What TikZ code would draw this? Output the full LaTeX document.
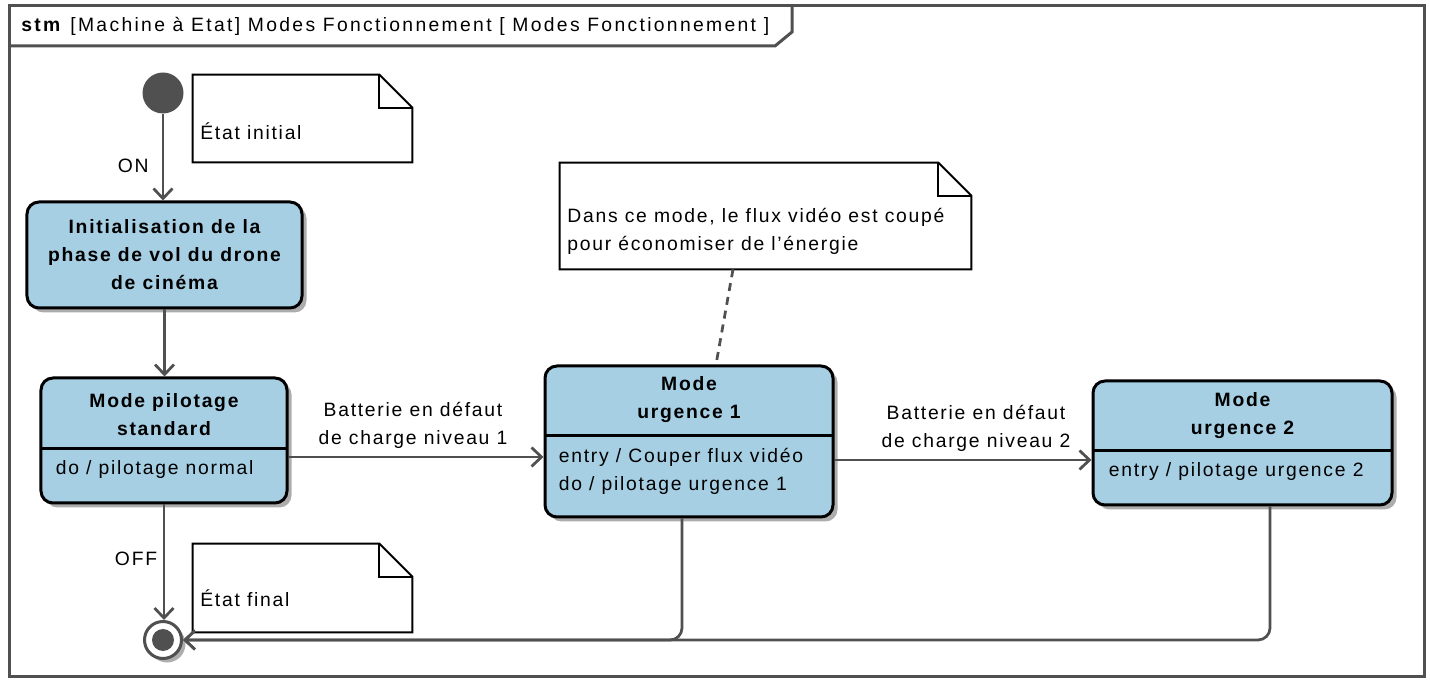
\documentclass[tikz,border=0pt]{standalone}
\usepackage{fontspec}
\setmainfont{Liberation Sans}[LetterSpace=9]
\usepackage{xcolor}
\usepackage{tikz}
\usetikzlibrary{arrows.meta, positioning, shadows, calc}

\definecolor{statefill}{RGB}{166,207,228}
\definecolor{linegray}{RGB}{80,80,80}

\begin{document}
\begin{tikzpicture}[
  x=0.2mm, y=-0.2mm,
  every node/.style={font=\fontsize{11}{15.9}\selectfont, inner sep=1.1mm},
  state/.style={rectangle, draw=black, line width=0.6mm, fill=statefill, rounded corners=2.4mm,
    align=center, font=\fontsize{11}{15.9}\selectfont\bfseries,
    drop shadow={shadow xshift=0.9mm, shadow yshift=-0.9mm, fill=black!40, opacity=0.8}},
  sname/.style={align=center, font=\fontsize{11}{15.9}\selectfont\bfseries},
  sbody/.style={anchor=west, align=left},
  divider/.style={line width=0.6mm, draw=black},
  notebox/.style={rectangle, minimum width=43.8mm, minimum height=17.4mm},
  noteline/.style={line width=0.4mm, draw=black, fill=white, line join=miter},
  trans/.style={draw=linegray, line width=0.55mm, -{Straight Barb[length=2mm, width=3.8mm, line width=0.55mm]}},
  lbl/.style={align=center},
  anchorline/.style={draw=linegray, line width=0.55mm, dash pattern=on 1.6mm off 1.2mm},
  frameline/.style={draw=linegray, line width=0.6mm},
]
  \useasboundingbox (0,0) rectangle (1430,684);

  % frame and title tab
  \draw[frameline] (9,6) rectangle (1424,677);
  \draw[frameline] (9,46) -- (775,46) -- (792,32) -- (792,6);
  \node[anchor=west, inner sep=0pt] (ttl) at (21,26)
    {\addfontfeature{LetterSpace=12}\textbf{stm} [Machine à Etat] Modes Fonctionnement [ Modes Fonctionnement ]};

  % notes
  \node[notebox] (n1) at (302.5,118.5) {};
  \node[notebox, minimum height=17.6mm] (n2) at (302.5,588) {};
  \node[notebox, minimum width=82.2mm, minimum height=21.2mm] (n3) at (765.5,216) {};
  \foreach \n in {n1,n2,n3} {
    \draw[noteline] (\n.north west) -- ([xshift=-6.6mm]\n.north east) -- ([yshift=-6.6mm]\n.north east)
      -- (\n.south east) -- (\n.south west) -- cycle;
    \draw[noteline, fill=none] ([xshift=-6.6mm]\n.north east) |- ([yshift=-6.6mm]\n.north east);
  }
  \node[sbody, inner sep=0pt] (n1t) at (200,131) {État initial};
  \node[sbody, inner sep=0pt] (n2t) at (200,598) {État final};
  \node[sbody, inner sep=0pt] (n3t) at (567,231) {Dans ce mode, le flux vidéo est coupé\\pour économiser de l'énergie};

  % pseudo states
  \node[circle, fill=linegray, minimum size=8.2mm, inner sep=0pt] (i0) at (163,93) {};
  \node[circle, draw=linegray, line width=0.6mm, fill=white, minimum size=7.4mm, inner sep=0pt,
    drop shadow={shadow xshift=0.8mm, shadow yshift=-0.8mm, fill=black!40, opacity=0.8}] (f0) at (163,640) {};
  \node[circle, fill=linegray, minimum size=4.4mm, inner sep=0pt] (f0i) at (f0) {};

  % states
  \node[state, minimum width=55mm, minimum height=21.2mm] (s1) at (164.5,255)
    {Initialisation de la\\phase de vol du drone\\de cinéma};

  \node[state, minimum width=49.2mm, minimum height=25mm] (s2) at (164,440.5) {};
  \draw[divider] (41,449) -- (287,449);
  \node[sname] (s2n) at (164,415) {Mode pilotage\\standard};
  \node[sbody] (s2b) at (50,470) {do / pilotage normal};

  \node[state, minimum width=57.6mm, minimum height=30.2mm] (s3) at (689,441.5) {};
  \draw[divider] (545,436) -- (833,436);
  \node[sname] (s3n) at (689,400) {Mode\\urgence 1};
  \node[sbody] (s3b) at (553,471) {entry / Couper flux vidéo\\do / pilotage urgence 1};

  \node[state, minimum width=59.8mm, minimum height=24.8mm] (s4) at (1242.5,443) {};
  \draw[divider] (1093,451) -- (1392,451);
  \node[sname] (s4n) at (1242.5,416) {Mode\\urgence 2};
  \node[sbody] (s4b) at (1103,472) {entry / pilotage urgence 2};

  % transitions
  \draw[trans] (i0) -- (i0 |- s1.north) node[pos=0.6, left=1.5mm] (lon) {ON};
  \draw[trans] (s1.south) -- (s1.south |- s2.north);
  \draw[trans] ([yshift=-3.3mm]s2.east) -- ([yshift=-3.3mm]s2.east -| s3.west)
    node[lbl, midway, above=0.3mm, xshift=-0.6mm] (lb1) {Batterie en défaut\\de charge niveau 1};
  \draw[trans] ([yshift=-3.7mm]s3.east) -- ([yshift=-3.7mm]s3.east -| s4.west)
    node[lbl, midway, above=0.3mm, xshift=2.6mm] (lb2) {Batterie en défaut\\de charge niveau 2};
  \draw[trans] (s2.south) -- (s2.south |- f0.north) node[pos=0.47, left=0pt] (loff) {OFF};
  \draw[trans, rounded corners=2.4mm] ([xshift=-1.4mm]s3.south) |- (f0.east);
  \draw[trans, rounded corners=2.4mm] ([xshift=5.5mm]s4.south) |- (f0.east);

  \draw[anchorline] ([xshift=-6.5mm]n3.south) -- ([xshift=5.4mm]s3.north);
\end{tikzpicture}
\end{document}
